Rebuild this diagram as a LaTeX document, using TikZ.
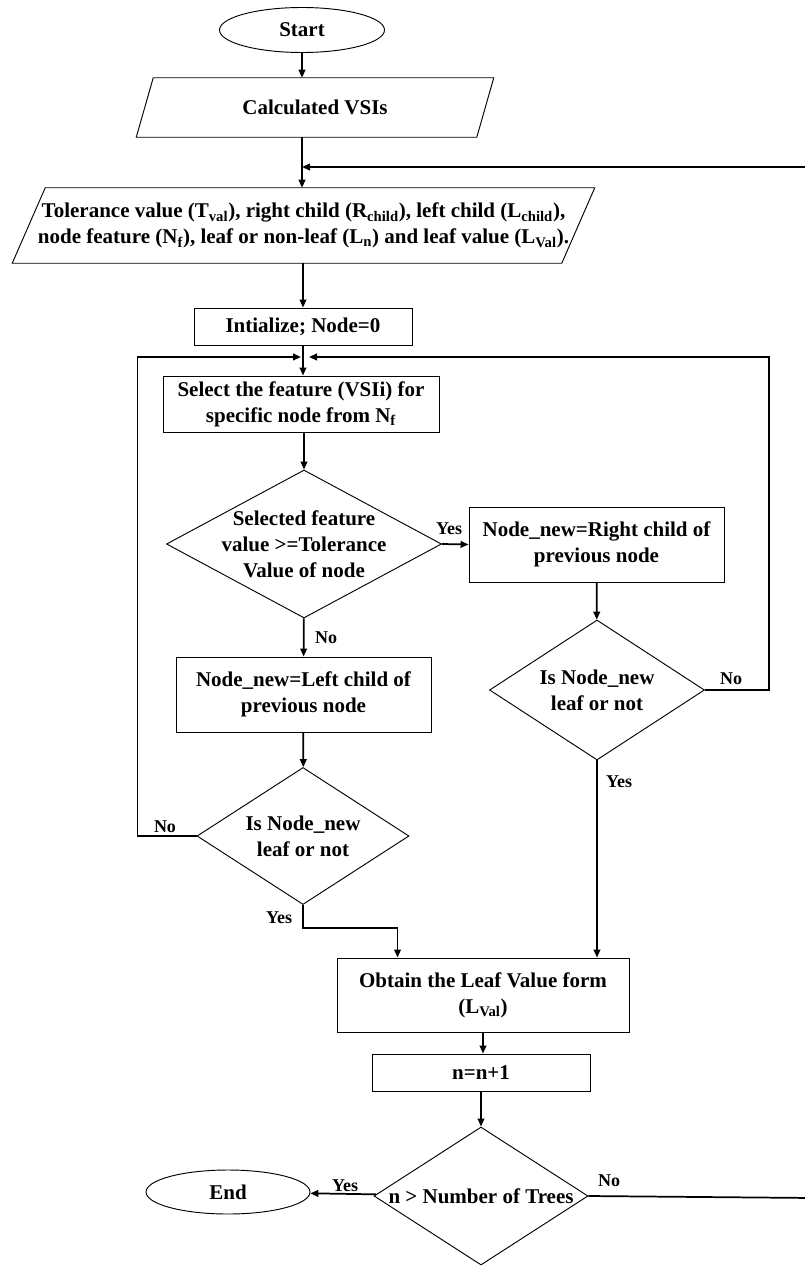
\documentclass[tikz,border=0pt]{standalone}
\usepackage{fontspec}
\setmainfont{Liberation Serif}
\usetikzlibrary{calc, shapes.geometric, positioning, arrows.meta}

\newdimen\px
\px=0.75pt
\newcommand{\boxfont}{\fontsize{15.75pt}{19.5pt}\selectfont\bfseries}
\newcommand{\tagfont}{\fontsize{13.5pt}{16pt}\selectfont\bfseries}

\tikzset{
    procbox/.style={draw, rectangle, line width=0.7pt, inner sep=0pt, align=center, font=\boxfont},
    termbox/.style={draw, ellipse, line width=0.7pt, inner sep=0pt, font=\boxfont},
    decision/.style={draw, diamond, line width=0.7pt, inner sep=0pt},
    iobox/.style={rectangle, inner sep=0pt, align=center, font=\boxfont},
    slant/.style={line width=0.7pt},
    txt/.style={align=center, font=\boxfont, inner sep=0pt},
    tag/.style={font=\tagfont, inner sep=0pt},
    flow/.style={line width=1.3pt, -{Triangle[length=6pt, width=5pt]}}
}

\begin{document}
\begin{tikzpicture}[x=0.75pt, y=-0.75pt]
    \useasboundingbox (0,0) rectangle (805,1278);
    % Eingabe
    \node[termbox, minimum width=165\px, minimum height=45\px] (start) at (302,30) {Start};
    \node[iobox, minimum width=340\px, minimum height=59\px] (vsi) at (315,107.5) {Calculated VSIs};
    \draw[slant] ($(vsi.south west)+(-8.5,0)$) -- ($(vsi.south east)+(-8.5,0)$) -- ($(vsi.north east)+(8.5,0)$) -- ($(vsi.north west)+(8.5,0)$) -- cycle;
    \node[iobox, minimum width=549\px, minimum height=75\px] (tol) at (303.5,225.5) {Tolerance value (T\textsubscript{val}), right child (R\textsubscript{child}), left child (L\textsubscript{child}),\\node feature (N\textsubscript{f}), leaf or non-leaf (L\textsubscript{n}) and leaf value (L\textsubscript{Val}).};
    \draw[slant] ($(tol.south west)+(-16.5,0)$) -- ($(tol.south east)+(-16.5,0)$) -- ($(tol.north east)+(16.5,0)$) -- ($(tol.north west)+(16.5,0)$) -- cycle;
    \node[procbox, minimum width=218\px, minimum height=37\px] (init) at (303,326.5) {Intialize; Node=0};
    \node[procbox, minimum width=276\px, minimum height=56\px] (sel) at (301,404) {Select the feature (VSIi) for\\specific node from N\textsubscript{f}};

    % Baum
    \node[decision, minimum width=275\px, minimum height=148\px] (dec1) at (304,544) {};
    \node[txt] (dec1t) at (dec1) {Selected feature\\value >=Tolerance\\Value of node};
    \node[procbox, minimum width=255\px, minimum height=75\px] (rchild) at (596.5,544.5) {Node\_new=Right child of\\previous node};
    \node[decision, minimum width=215\px, minimum height=140\px] (dec2) at (597,690) {};
    \node[txt] (dec2t) at (dec2) {Is Node\_new\\leaf or not};
    \node[procbox, minimum width=255\px, minimum height=75\px] (lchild) at (303.5,694.5) {Node\_new=Left child of\\previous node};
    \node[decision, minimum width=212\px, minimum height=137\px] (dec3) at (303,836) {};
    \node[txt] (dec3t) at (dec3) {Is Node\_new\\leaf or not};

    % Ausgabe
    \node[procbox, minimum width=292\px, minimum height=74\px] (leaf) at (483,995) {Obtain the Leaf Value form\\(L\textsubscript{Val})};
    \node[procbox, minimum width=218\px, minimum height=37\px] (count) at (481,1072.5) {n=n+1};
    \node[decision, minimum width=214\px, minimum height=138\px] (dec4) at (481,1196) {};
    \node[txt] (dec4t) at (dec4) {n > Number of Trees};
    \node[termbox, minimum width=164\px, minimum height=44\px] (end) at (228,1192) {End};

    % Pfeile
    \coordinate (mergeT) at (302,167);
    \coordinate (mergeL) at (301,357);
    \coordinate (mergeR) at (309,357);
    \draw[flow] (start) -- (start |- vsi.north);
    \draw[flow] (start |- vsi.south) -- (start |- tol.north);
    \draw[flow] (init |- tol.south) -- (init);
    \draw[flow] (init.south) -- (init.south |- sel.north);
    \draw[flow] (dec1.north |- sel.south) -- (dec1.north);
    \draw[flow] (dec1.east) -- (rchild.west);
    \draw[flow] (rchild) -- (dec2);
    \draw[flow] (dec1) -- (lchild);
    \draw[flow] (lchild) -- (dec3);
    \draw[flow] (dec2.south) -- (dec2.south |- leaf.north);
    \draw[flow] (dec3.south) -- ++(0,23) -| ($(leaf.north west)+(61,0)$);
    \draw[flow] (leaf.south) -- (leaf.south |- count.north);
    \draw[flow] (count.south) -- (count.south |- dec4.north);
    \draw[flow] (dec4) -- (end);
    % Schleifen
    \draw[flow] (dec3.west) -- ++(-59,0) |- (mergeL);
    \draw[flow] (dec2.east) -- ++(64,0) |- (mergeR);
    \draw[flow] (dec4.east) -- ++(225,2) |- (mergeT);

    % Ja / Nein
    \node[tag] (yes1) at (449,529) {Yes};
    \node[tag] (no1) at (326,638) {No};
    \node[tag] (no2) at (731,679) {No};
    \node[tag] (yes2) at (619,782) {Yes};
    \node[tag] (no3) at (165,827) {No};
    \node[tag] (yes3) at (279,918) {Yes};
    \node[tag] (yes4) at (345,1186) {Yes};
    \node[tag] (no4) at (609,1181) {No};
\end{tikzpicture}
\end{document}
